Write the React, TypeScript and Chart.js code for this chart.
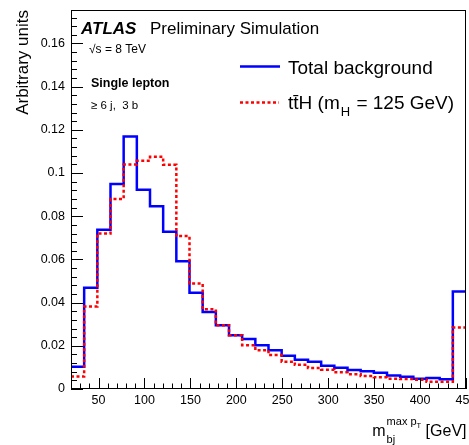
import React, { useEffect, useRef } from "react";
import { Chart, registerables } from "chart.js";

Chart.register(...registerables);

// Bin edges of m_bj^{max pT} [GeV] (30 bins, 20-450)
const binEdges = [
  20, 34.33, 48.67, 63, 77.33, 91.67, 106, 120.33, 134.67, 149, 163.33, 177.67,
  192, 206.33, 220.67, 235, 249.33, 263.67, 278, 292.33, 306.67, 321, 335.33,
  349.67, 364, 378.33, 392.67, 407, 421.33, 435.67, 450,
];

// Total background (normalised)
const totalBackground = [
  0.0103, 0.0469, 0.0738, 0.0949, 0.1169, 0.0923, 0.0846, 0.0728, 0.0592, 0.0446,
  0.0357, 0.0295, 0.0249, 0.0231, 0.0203, 0.018, 0.0154, 0.0135, 0.0126, 0.0108,
  0.0098, 0.0088, 0.0082, 0.0075, 0.0063, 0.0057, 0.0048, 0.0051, 0.0045, 0.0451,
];

// ttH (mH = 125 GeV) signal (normalised)
const ttHSignal = [
  0.0058, 0.0382, 0.072, 0.088, 0.104, 0.1057, 0.1075, 0.1038, 0.0708, 0.0488,
  0.0369, 0.0295, 0.0249, 0.0203, 0.018, 0.0157, 0.0126, 0.0112, 0.0097, 0.0089,
  0.0077, 0.0068, 0.006, 0.0054, 0.0048, 0.0046, 0.0043, 0.0034, 0.0034, 0.0285,
];

const xMajorTicks = [50, 100, 150, 200, 250, 300, 350, 400, 450];
const xMajorLabels = ["50", "100", "150", "200", "250", "300", "350", "400", "450"];
const xMinorTicks = [
  30, 40, 60, 70, 80, 90, 110, 120, 130, 140, 160, 170, 180, 190, 210, 220, 230, 240,
  260, 270, 280, 290, 310, 320, 330, 340, 360, 370, 380, 390, 410, 420, 430, 440,
];
const yMajorTicks = [0, 0.02, 0.04, 0.06, 0.08, 0.1, 0.12, 0.14, 0.16];
const yMajorLabels = ["0", "0.02", "0.04", "0.06", "0.08", "0.1", "0.12", "0.14", "0.16"];
const yMinorStep = 0.004;

const X_MIN = 20;
const X_MAX = 450;
const Y_MAX = 0.1755;

const FONT = '"Liberation Sans", Arial, Helvetica, sans-serif';

function histPoints(values: number[]) {
  const pts = values.map((v, i) => ({ x: binEdges[i], y: v }));
  pts.push({ x: binEdges[binEdges.length - 1], y: values[values.length - 1] });
  return pts;
}

const decorPlugin = {
  id: "rootDecor",
  afterDatasetsDraw(chart: any) {
    const ctx: CanvasRenderingContext2D = chart.ctx;
    const { left, right, top, bottom } = chart.chartArea;
    const xs = chart.scales.x;
    const ys = chart.scales.y;
    ctx.save();
    ctx.strokeStyle = "#000";
    ctx.fillStyle = "#000";
    ctx.lineWidth = 1;
    // frame
    ctx.strokeRect(left + 0.5, top + 0.5, right - left - 1, bottom - top - 1);

    // x ticks (inward)
    ctx.beginPath();
    xMajorTicks.forEach((v) => {
      const px = Math.round(xs.getPixelForValue(v)) + 0.5;
      ctx.moveTo(px, bottom);
      ctx.lineTo(px, bottom - 11);
    });
    xMinorTicks.forEach((v) => {
      const px = Math.round(xs.getPixelForValue(v)) + 0.5;
      ctx.moveTo(px, bottom);
      ctx.lineTo(px, bottom - 5.5);
    });
    // y ticks
    yMajorTicks.forEach((v) => {
      const py = Math.round(ys.getPixelForValue(v)) + 0.5;
      ctx.moveTo(left, py);
      ctx.lineTo(left + 12, py);
    });
    for (let v = yMinorStep; v < Y_MAX; v += yMinorStep) {
      const py = Math.round(ys.getPixelForValue(v)) + 0.5;
      ctx.moveTo(left, py);
      ctx.lineTo(left + 6, py);
    }
    ctx.stroke();

    // tick labels
    ctx.font = `12.5px ${FONT}`;
    ctx.textAlign = "center";
    ctx.textBaseline = "alphabetic";
    xMajorTicks.forEach((v, i) => {
      ctx.fillText(xMajorLabels[i], xs.getPixelForValue(v), 404);
    });
    ctx.textAlign = "right";
    ctx.textBaseline = "middle";
    yMajorTicks.forEach((v, i) => {
      ctx.fillText(yMajorLabels[i], left - 6, ys.getPixelForValue(v));
    });

    // y title
    ctx.save();
    ctx.translate(28, top);
    ctx.rotate(-Math.PI / 2);
    ctx.textAlign = "right";
    ctx.textBaseline = "alphabetic";
    ctx.font = `17px ${FONT}`;
    ctx.fillText("Arbitrary units", 0, 0);
    ctx.restore();

    // x title: m_{bj}^{max p_T} [GeV]
    ctx.textAlign = "left";
    ctx.textBaseline = "alphabetic";
    const big = `16px ${FONT}`;
    const small = `11px ${FONT}`;
    const tiny = `7.5px ${FONT}`;
    ctx.font = big;
    const wM = ctx.measureText("m").width;
    const wGeV = ctx.measureText(" [GeV]").width;
    ctx.font = small;
    const wSub = ctx.measureText("bj").width;
    const wSup = ctx.measureText("max p").width;
    ctx.font = tiny;
    const wT = ctx.measureText("T").width;
    const wScripts = Math.max(wSub, wSup + wT) + 1;
    const endX = 466.5;
    const x0 = endX - wGeV - wScripts - wM;
    const base = 436;
    ctx.font = big;
    ctx.fillText("m", x0, base);
    ctx.font = small;
    ctx.fillText("bj", x0 + wM + 1, base + 7);
    ctx.fillText("max p", x0 + wM + 1, base - 11);
    ctx.font = tiny;
    ctx.fillText("T", x0 + wM + 1 + wSup, base - 8.5);
    ctx.font = big;
    ctx.fillText(" [GeV]", x0 + wM + wScripts, base);

    // ATLAS label
    ctx.font = `italic bold 17px ${FONT}`;
    ctx.fillText("ATLAS", 81, 34);
    ctx.font = `17px ${FONT}`;
    ctx.fillText("Preliminary Simulation", 150, 34);

    ctx.font = `12px ${FONT}`;
    ctx.fillText("\u221As = 8 TeV", 89, 53);
    ctx.font = `bold 12.5px ${FONT}`;
    ctx.fillText("Single lepton", 91, 87);
    ctx.font = `11.5px ${FONT}`;
    ctx.fillText("\u2265 6 j,  3 b", 91, 109);

    // legend
    ctx.lineWidth = 2.5;
    ctx.strokeStyle = "#0000ff";
    ctx.beginPath();
    ctx.moveTo(240, 66.5);
    ctx.lineTo(280, 66.5);
    ctx.stroke();
    ctx.strokeStyle = "#ff0000";
    ctx.setLineDash([3, 2.5]);
    ctx.beginPath();
    ctx.moveTo(240, 102.5);
    ctx.lineTo(279, 102.5);
    ctx.stroke();
    ctx.setLineDash([]);

    ctx.fillStyle = "#000";
    ctx.font = `19px ${FONT}`;
    ctx.fillText("Total background", 288, 74);
    const lx = 288;
    const lb = 109;
    const part1 = "tt\u0304H (m";
    ctx.fillText(part1, lx, lb);
    const w1 = ctx.measureText(part1).width;
    ctx.font = `13px ${FONT}`;
    ctx.fillText("H", lx + w1 + 1, lb + 7);
    const wH = ctx.measureText("H").width;
    ctx.font = `19px ${FONT}`;
    ctx.fillText(" = 125 GeV)", lx + w1 + wH + 2, lb);

    ctx.restore();
  },
};

export default function App() {
  const ref = useRef<HTMLCanvasElement | null>(null);
  useEffect(() => {
    if (!ref.current) return;
    const chart = new Chart(ref.current, {
      type: "line",
      data: {
        datasets: [
          {
            label: "ttH (mH = 125 GeV)",
            data: histPoints(ttHSignal),
            borderColor: "#ff0000",
            borderWidth: 2.5,
            borderDash: [3, 2.5],
            stepped: "before",
            pointRadius: 0,
            fill: false,
          },
          {
            label: "Total background",
            data: histPoints(totalBackground),
            borderColor: "#0000ff",
            borderWidth: 2.5,
            stepped: "before",
            pointRadius: 0,
            fill: false,
          },
        ],
      },
      options: {
        animation: false,
        responsive: false,
        devicePixelRatio: 1,
        layout: { padding: { left: 71, top: 10, right: 3, bottom: 56 } },
        plugins: { legend: { display: false }, title: { display: false }, tooltip: { enabled: false } },
        events: [],
        scales: {
          x: { type: "linear", min: X_MIN, max: X_MAX, display: false },
          y: { type: "linear", min: 0, max: Y_MAX, display: false },
        },
      },
      plugins: [decorPlugin],
    });
    return () => chart.destroy();
  }, []);
  return (
    <div style={{ position: "absolute", left: 0, top: 0, width: 469, height: 445, background: "#fff" }}>
      <canvas ref={ref} width={469} height={445} style={{ display: "block" }} />
    </div>
  );
}
